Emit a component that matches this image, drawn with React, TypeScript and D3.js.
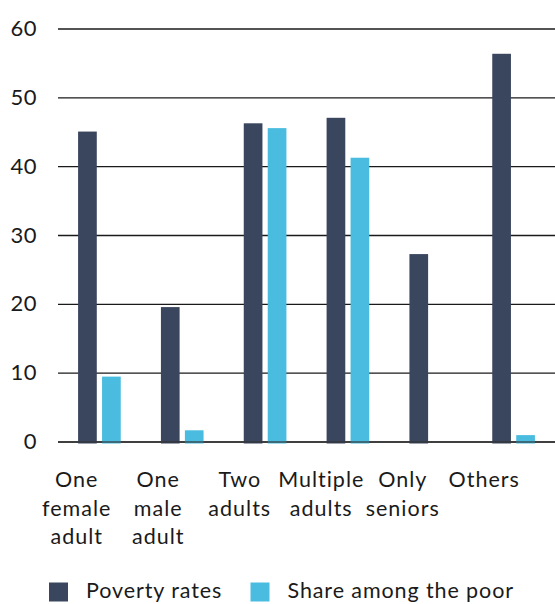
import React from 'react'
import { scaleBand, scaleLinear } from 'd3'

// Household types: poverty rate vs share among the poor, grouped bars.

const categories = ['One female adult', 'One male adult', 'Two adults', 'Multiple adults', 'Only seniors', 'Others']
const labelLines = [
  ['One', 'female', 'adult'],
  ['One', 'male', 'adult'],
  ['Two', 'adults'],
  ['Multiple', 'adults'],
  ['Only', 'seniors'],
  ['Others'],
]
const povertyRates = [45.1, 19.6, 46.3, 47.1, 27.3, 56.4]
const shareAmongPoor = [9.5, 1.7, 45.6, 41.3, 0, 1.0]
const series = ['Poverty rates', 'Share among the poor']
const yTicks = [0, 10, 20, 30, 40, 50, 60]

const DARK = '#3a465e'
const LIGHT = '#4abcdf'
const INK = '#1a1a1a'
const FONT = 'Lato, "Open Sans", sans-serif'

export default function App() {
  const width = 555
  const height = 604
  const left = 58
  const right = 555
  const top = 29
  const bottom = 442

  const x = scaleBand().domain(categories).range([left, right]).paddingInner(0.485).paddingOuter(0.2425)
  const sub = scaleBand<number>().domain([0, 1]).range([0, x.bandwidth()]).paddingInner(0.22)
  const y = scaleLinear().domain([0, 60]).range([bottom, top])
  // the axis labels sit on their own, slightly tighter, grid
  const lx = scaleBand().domain(categories).range([36, 525])

  const values = [povertyRates, shareAmongPoor]
  const colors = [DARK, LIGHT]

  return (
    <svg
      width={width}
      height={height}
      style={{ position: 'absolute', left: 0, top: 0, fontFamily: FONT }}
      viewBox={`0 0 ${width} ${height}`}
    >
      <rect width={width} height={height} fill="#fff" />
      {yTicks.map((t) => (
        <g key={t}>
          <line x1={left} x2={right} y1={y(t)} y2={y(t)} stroke={INK} strokeWidth={1.4} />
          <text x={37} y={y(t) + 7} textAnchor="end" fontSize={22} letterSpacing={0.5} fill={INK}>
            {t}
          </text>
        </g>
      ))}
      {categories.map((c, i) => (
        <g key={c}>
          {values.map((vals, s) =>
            vals[i] > 0 ? (
              <rect
                key={s}
                x={(x(c) ?? 0) + (sub(s) ?? 0)}
                y={y(vals[i])}
                width={sub.bandwidth()}
                height={y(0) - y(vals[i]) + 1.5}
                fill={colors[s]}
              />
            ) : null,
          )}
        </g>
      ))}
      <line x1={left} x2={right} y1={y(0)} y2={y(0)} stroke="#333" strokeWidth={1.4} opacity={0.8} />
      {categories.map((c, i) => (
        <text
          key={c}
          x={(lx(c) ?? 0) + lx.bandwidth() / 2}
          y={487}
          textAnchor="middle"
          fontSize={21.5}
          letterSpacing={1}
          fill={INK}
        >
          {labelLines[i].map((l, k) => (
            <tspan key={k} x={(lx(c) ?? 0) + lx.bandwidth() / 2} dy={k === 0 ? 0 : 28.5}>
              {l}
            </tspan>
          ))}
        </text>
      ))}
      {series.map((s, k) => {
        const lxPos = k === 0 ? 49 : 250.5
        return (
          <g key={s}>
            <rect x={lxPos} y={582.5} width={19} height={19} fill={colors[k]} />
            <text x={lxPos + 37} y={598} fontSize={21.5} letterSpacing={0.9} fill={INK}>
              {s}
            </text>
          </g>
        )
      })}
    </svg>
  )
}
